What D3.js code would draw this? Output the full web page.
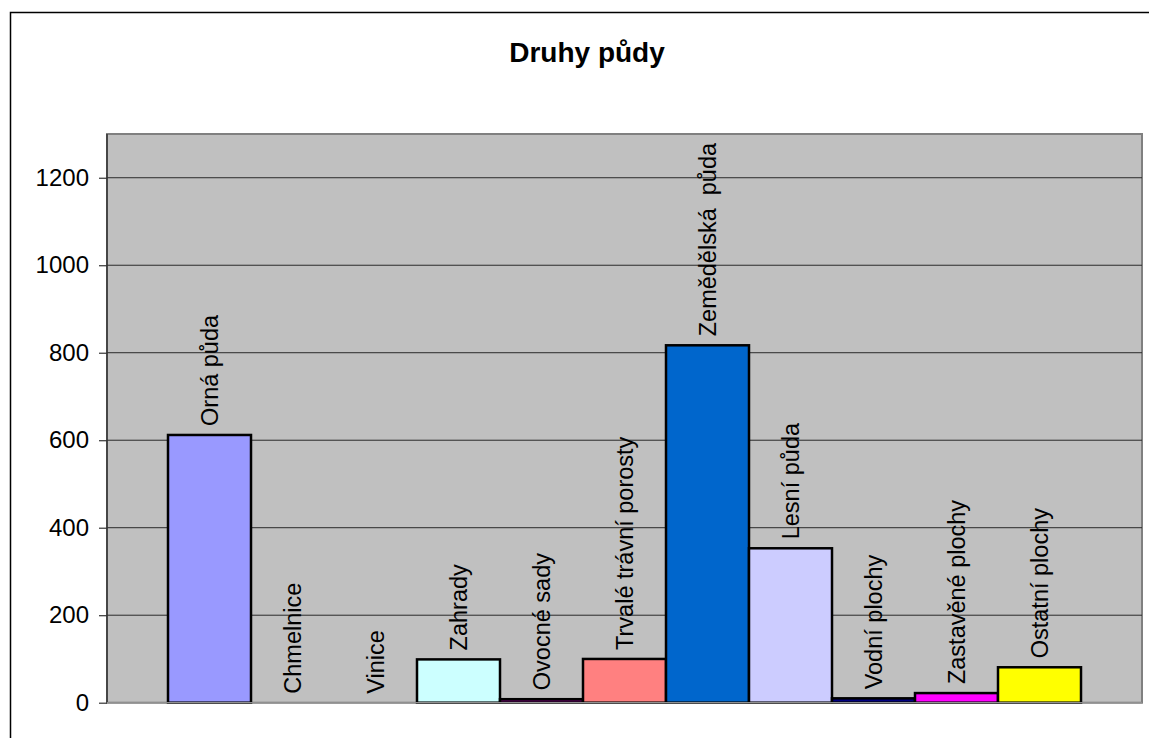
<!DOCTYPE html>
<html>
<head>
<meta charset="utf-8">
<script src="https://cdn.jsdelivr.net/npm/d3@7"></script>
<style>
  html, body { margin: 0; padding: 0; background: #fff; }
  svg { display: block; }
  text { font-family: "Liberation Sans", Arial, sans-serif; }
</style>
</head>
<body>
<script>
// ---- data ----
const categories = ["Orná půda", "Chmelnice", "Vinice", "Zahrady", "Ovocné sady",
  "Trvalé trávní porosty", "Zemědělská  půda", "Lesní půda", "Vodní plochy",
  "Zastavěné plochy", "Ostatní plochy"];
const values = [612, 0, 0, 99, 8, 100, 817, 353, 10, 22, 81];
const colors = ["#9999FF", "#993366", "#FFFFCC", "#CCFFFF", "#660066", "#FF8080",
  "#0066CC", "#CCCCFF", "#000080", "#FF00FF", "#FFFF00"];
const yTicks = [0, 200, 400, 600, 800, 1000, 1200];
const title = "Druhy půdy";

// ---- layout ----
const W = 1149, H = 738;
const plot = { left: 107, right: 1142, top: 134, bottom: 702.7 };

const svg = d3.select("body").append("svg").attr("width", W).attr("height", H);
svg.append("rect").attr("width", W).attr("height", H).attr("fill", "#fff");

// outer chart border (extends beyond window on right/bottom)
svg.append("rect").attr("x", 10.5).attr("y", 12.5).attr("width", 1200).attr("height", 800)
  .attr("fill", "none").attr("stroke", "#000").attr("stroke-width", 1.5);

const y = d3.scaleLinear().domain([0, 1300]).range([plot.bottom, plot.top]);
const x = d3.scaleBand().domain(categories).range([168, 1081]).padding(0);

// plot area
svg.append("rect").attr("x", plot.left).attr("y", plot.top)
  .attr("width", plot.right - plot.left).attr("height", plot.bottom - plot.top)
  .attr("fill", "#C0C0C0").attr("stroke", "#808080").attr("stroke-width", 2);

// gridlines
svg.append("g").selectAll("line").data(yTicks.filter(d => d > 0)).join("line")
  .attr("x1", plot.left).attr("x2", plot.right)
  .attr("y1", d => y(d)).attr("y2", d => y(d))
  .attr("stroke", "#2a2a2a").attr("stroke-width", 1);

// y axis
const yAxis = d3.axisLeft(y).tickValues(yTicks).tickFormat(d3.format("d"))
  .tickSize(8).tickPadding(10);
const gy = svg.append("g").attr("transform", `translate(${plot.left},0)`).call(yAxis);
gy.select(".domain").attr("stroke", "#333").attr("stroke-width", 1.5)
  .attr("d", `M0,${plot.top}V${plot.bottom}`);
gy.selectAll(".tick line").attr("stroke", "#333").attr("stroke-width", 1.2);
gy.selectAll(".tick text").attr("font-size", 24).attr("fill", "#000")
  .attr("font-family", "Liberation Sans, Arial, sans-serif");

// bars
const data = categories.map((c, i) => ({ c, v: values[i], col: colors[i] }));
svg.append("g").selectAll("rect").data(data.filter(d => d.v > 0)).join("rect")
  .attr("x", d => x(d.c)).attr("width", x.bandwidth())
  .attr("y", d => y(d.v)).attr("height", d => y(0) - y(d.v))
  .attr("fill", d => d.col).attr("stroke", "#000").attr("stroke-width", 2.5);

// bottom axis line
svg.append("line").attr("x1", plot.left).attr("x2", plot.right)
  .attr("y1", plot.bottom).attr("y2", plot.bottom)
  .attr("stroke", "#909090").attr("stroke-width", 1.5);

// labels
svg.append("g").selectAll("text").data(data).join("text")
  .attr("transform", d => `translate(${x(d.c) + x.bandwidth() / 2},${y(d.v) - 9}) rotate(-90)`)
  .attr("dy", "0.35em").attr("text-anchor", "start")
  .attr("font-size", 23.5).attr("fill", "#000")
  .style("white-space", "pre")
  .text(d => d.c);

// title
svg.append("text").attr("x", 587).attr("y", 62).attr("text-anchor", "middle")
  .attr("font-size", 28).attr("font-weight", "bold").attr("fill", "#000")
  .text(title);
</script>
</body>
</html>
